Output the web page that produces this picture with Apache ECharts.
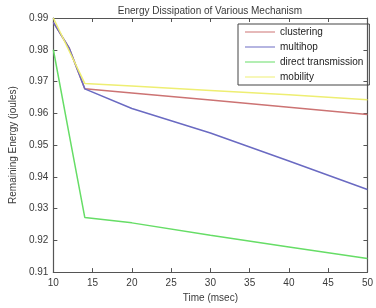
<!DOCTYPE html>
<html>
<head>
<meta charset="utf-8">
<script src="https://cdn.jsdelivr.net/npm/echarts@6/dist/echarts.min.js"></script>
<style>
  html, body { margin: 0; padding: 0; background: #fff; }
  #chart { width: 376px; height: 308px; }
</style>
</head>
<body>
<div id="chart"></div>
<script>
// values
var time = [10, 12, 14, 20, 30, 40, 50];
var clustering = [0.9886, 0.9806, 0.9677, 0.9664, 0.9642, 0.9619, 0.9596];
var multihop = [0.9886, 0.9806, 0.9677, 0.9615, 0.9538, 0.9450, 0.9360];
var directTransmission = [0.9800, 0.9535, 0.9272, 0.9255, 0.9216, 0.9179, 0.9143];
var mobility = [0.9900, 0.9797, 0.9694, 0.9686, 0.9672, 0.9658, 0.9643];

var seriesNames = ['clustering', 'multihop', 'direct transmission', 'mobility'];
var seriesValues = [clustering, multihop, directTransmission, mobility];
var seriesColors = ['#cc7373', '#6a6ac2', '#66dd66', '#eeee72'];

var chart = echarts.init(document.getElementById('chart'));

function pairs (values) {
  return time.map(function (t, i) { return [t, values[i]]; });
}

var labelFont = { color: '#3a3a3a', fontSize: 10, fontFamily: 'Liberation Sans' };

var options = {
  animation: false,
  backgroundColor: '#fff',
  title: {
    text: 'Energy Dissipation of Various Mechanism',
    left: 205,
    textAlign: 'center',
    top: 1,
    textStyle: { color: '#3a3a3a', fontSize: 10, fontWeight: 'normal', fontFamily: 'Liberation Sans' }
  },
  legend: {
    data: seriesNames,
    orient: 'vertical',
    left: 238,
    top: 24,
    width: 130,
    padding: [3, 6, 3, 7],
    itemWidth: 30,
    itemHeight: 10,
    itemGap: 5,
    borderColor: '#444',
    borderWidth: 1,
    icon: 'path://M0,4.5 H30 V5.5 H0 Z',
    textStyle: { color: '#222', fontSize: 10, fontFamily: 'Liberation Sans', padding: [0, 6, 0, 0] }
  },
  grid: {
    left: 39,
    right: 5,
    top: 18,
    bottom: 27
  },
  xAxis: [{
    type: 'value',
    min: 10,
    max: 50,
    interval: 5,
    name: 'Time (msec)',
    nameLocation: 'middle',
    nameGap: 20,
    nameTextStyle: labelFont,
    axisLine: { lineStyle: { color: '#555', width: 1.2 } },
    axisTick: { inside: true, length: 4, lineStyle: { color: '#555' } },
    axisLabel: Object.assign({ margin: 6 }, labelFont),
    splitLine: { show: false }
  }, {
    type: 'value',
    position: 'top',
    min: 10,
    max: 50,
    interval: 5,
    axisLine: { lineStyle: { color: '#555', width: 1.2 } },
    axisTick: { inside: true, length: 4, lineStyle: { color: '#555' } },
    axisLabel: { show: false },
    splitLine: { show: false }
  }],
  yAxis: [{
    type: 'value',
    min: 0.91,
    max: 0.99,
    interval: 0.01,
    name: 'Remaining Energy (joules)',
    nameLocation: 'middle',
    nameGap: 35,
    nameTextStyle: labelFont,
    axisLine: { lineStyle: { color: '#555', width: 1.2 } },
    axisTick: { inside: true, length: 4, lineStyle: { color: '#555' } },
    axisLabel: Object.assign({ margin: 5, formatter: function (v) { return v.toFixed(2); } }, labelFont),
    splitLine: { show: false }
  }, {
    type: 'value',
    position: 'right',
    min: 0.91,
    max: 0.99,
    interval: 0.01,
    axisLine: { show: true, lineStyle: { color: '#555', width: 1.2 } },
    axisTick: { show: true, inside: true, length: 4, lineStyle: { color: '#555' } },
    axisLabel: { show: false },
    splitLine: { show: false }
  }],
  series: seriesNames.map(function (name, i) {
    return {
      name: name,
      type: 'line',
      xAxisIndex: 0,
      yAxisIndex: 0,
      showSymbol: false,
      symbol: 'none',
      color: seriesColors[i],
      lineStyle: { width: 1.5, color: seriesColors[i] },
      data: pairs(seriesValues[i]),
      z: 2 + i
    };
  })
};

chart.setOption(options);
</script>
</body>
</html>
